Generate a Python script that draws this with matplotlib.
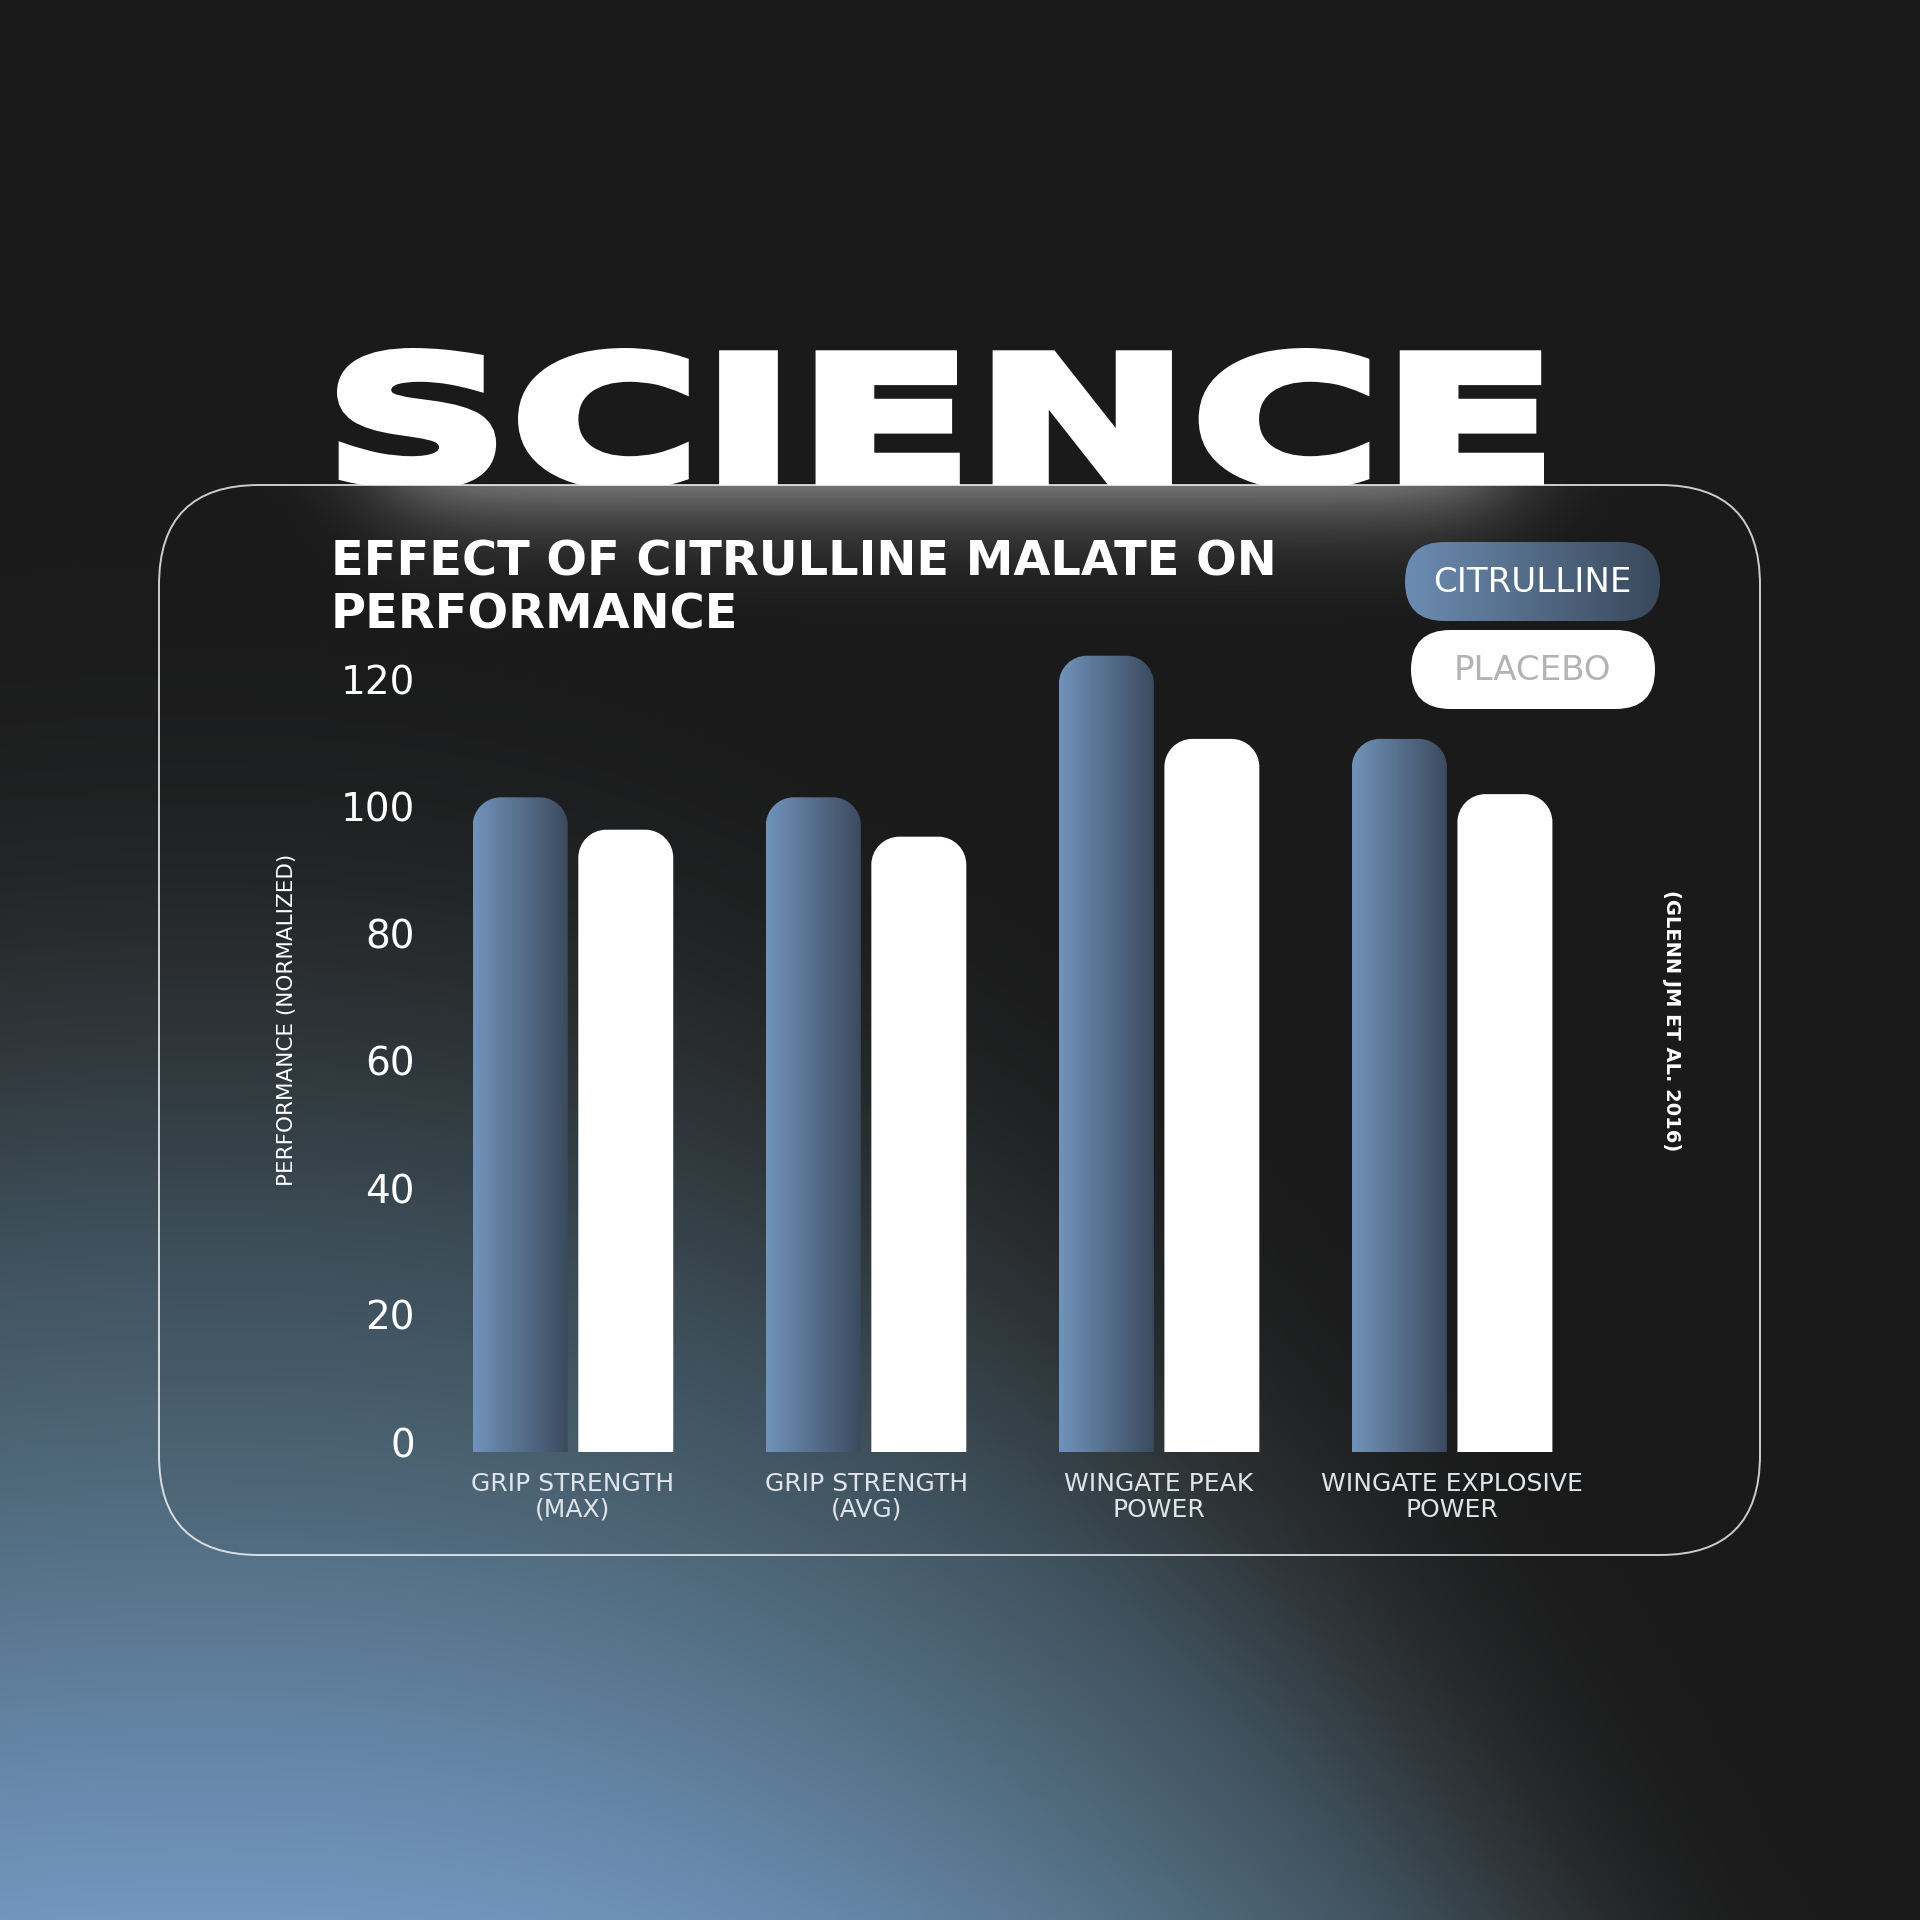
import numpy as np
import matplotlib
matplotlib.use("Agg")
import matplotlib.pyplot as plt
from matplotlib.patches import FancyBboxPatch, PathPatch
from matplotlib.path import Path
from matplotlib.transforms import Bbox, TransformedBbox, Affine2D, ScaledTranslation
from matplotlib.patheffects import AbstractPathEffect
from matplotlib.colors import LinearSegmentedColormap

# ---------------- data ----------------
categories = ["GRIP STRENGTH\n(MAX)", "GRIP STRENGTH\n(AVG)",
              "WINGATE PEAK\nPOWER", "WINGATE EXPLOSIVE\nPOWER"]
citrulline = [103.1, 103.1, 125.4, 112.3]
placebo = [98.0, 96.9, 112.3, 103.6]
yticks = [0, 20, 40, 60, 80, 100, 120]
series_names = ["CITRULLINE", "PLACEBO"]
title = "EFFECT OF CITRULLINE MALATE ON\nPERFORMANCE"
headline = "SCIENCE"
ylabel = "PERFORMANCE (NORMALIZED)"
source = "(GLENN JM ET AL. 2016)"

W = 1920
fig = plt.figure(figsize=(19.2, 19.2), dpi=100)


def fx(x):
    return x / W


def fy(y):
    return 1 - y / W


# ---------------- background ----------------
bg = fig.add_axes([0, 0, 1, 1], zorder=-10)
bg.axis("off")
n = 480
xs = np.linspace(0, W, n)
ys = np.linspace(0, W, n)
X, Y = np.meshgrid(xs, ys)
dy = np.clip(2000 - Y, 0, None)
dxx = np.abs(X - 200)
u = 1 - dy / 1150 - (dxx / 1500) ** 2.3
s = 0.10
t = np.clip(s * np.logaddexp(0, u / s), 0, 1)
bg_cmap = LinearSegmentedColormap.from_list(
    "bg", [(0, "#1a1a1a"), (0.12, "#2a2e30"), (0.33, "#3e4f5a"), (0.55, "#506a7c"),
           (0.8, "#6688aa"), (1.0, "#7a9ecc")])
img = bg_cmap(t)[..., :3]
bg.imshow(img, extent=[0, 1, 0, 1], origin="upper", aspect="auto", interpolation="bilinear")
bg.set_xlim(0, 1)
bg.set_ylim(0, 1)


# ---------------- headline (stretched wide, clipped by the card) ----------------
class FitStretch(AbstractPathEffect):
    def __init__(self, x0, x1, y0, y1, lw=0):
        super().__init__()
        self.x0, self.x1, self.y0, self.y1, self.lw = x0, x1, y0, y1, lw

    def draw_path(self, renderer, gc, tpath, affine, rgbFace=None):
        ext = tpath.transformed(affine).get_extents()
        sx = (self.x1 - self.x0) / ext.width
        sy = (self.y1 - self.y0) / ext.height
        aff = affine + Affine2D().translate(-ext.x0, -ext.y0).scale(sx, sy).translate(self.x0, self.y0)
        gc0 = renderer.new_gc()
        gc0.copy_properties(gc)
        gc0.set_linewidth(self.lw)
        gc0.set_foreground(rgbFace)
        gc0.set_joinstyle("miter")
        renderer.draw_path(gc0, tpath, aff, rgbFace)
        gc0.restore()


card_top, card_bot, card_l, card_r = 485, 1555, 159, 1760
stroke_px = 10
sh = stroke_px / 2
sci = fig.text(0.5, fy(420), headline, fontsize=130, fontweight="bold", color="white",
               ha="center", va="center", zorder=1,
               path_effects=[FitStretch(337 + sh, 1544 - sh, W - 490 + sh, W - 348 - sh,
                                        lw=stroke_px * 72 / 100)])
sci.set_clip_box(TransformedBbox(Bbox([[0, fy(card_top)], [1, 1]]), fig.transFigure))

# ---------------- card overlay ----------------
ov = fig.add_axes([0, 0, 1, 1], zorder=2)
ov.axis("off")
card = FancyBboxPatch((fx(card_l), fy(card_bot)), fx(card_r) - fx(card_l), (card_bot - card_top) / W,
                      boxstyle=f"round,pad=0,rounding_size={100 / W}",
                      fc=(0.1, 0.1, 0.1, 0.05), ec=(1, 1, 1, 0.78), lw=1.4)
ov.add_patch(card)

# glow under the headline
gx = np.linspace(250, 1650, 500)
gy = np.linspace(card_top, card_top + 200, 140)
GX, GY = np.meshgrid(gx, gy)
hwin = 1 / (1 + np.exp(-(GX - 390) / 35)) * 1 / (1 + np.exp((GX - 1500) / 35))
alpha = 0.40 * np.exp(-((GY - card_top) / 48) ** 1.2) * hwin
glow = np.zeros(GX.shape + (4,))
glow[..., :3] = 1.0
glow[..., 3] = alpha
gim = ov.imshow(glow, extent=[fx(250), fx(1650), fy(card_top + 200), fy(card_top)],
                origin="upper", aspect="auto", interpolation="bilinear")
gim.set_clip_path(card)

# legend pills
cit_cmap = LinearSegmentedColormap.from_list("cit", ["#7193bb", "#3b4b5e"])
pill1 = FancyBboxPatch((fx(1405), fy(621)), fx(1660) - fx(1405), 79 / W,
                       boxstyle=f"round,pad=0,rounding_size={39.5 / W}", fc="none", ec="none")
ov.add_patch(pill1)
pim = ov.imshow(np.linspace(0, 1, 256)[None, :], cmap=cit_cmap,
                extent=[fx(1405), fx(1660), fy(621), fy(542)], aspect="auto")
pim.set_clip_path(pill1)
pill2 = FancyBboxPatch((fx(1411), fy(709)), fx(1655) - fx(1411), 79 / W,
                       boxstyle=f"round,pad=0,rounding_size={39.5 / W}", fc="white", ec="none")
ov.add_patch(pill2)
ov.set_xlim(0, 1)
ov.set_ylim(0, 1)

fig.text(fx(1532), fy(583), series_names[0], fontsize=24.5, color="white", ha="center", va="center", zorder=6)
fig.text(fx(1532), fy(671), series_names[1], fontsize=24.5, color="#b3b3b3", ha="center", va="center", zorder=6)

# title and side labels
fig.text(fx(331), fy(538), title, fontsize=34.5, fontweight="bold", color="white",
         ha="left", va="top", linespacing=1.17, zorder=6)
fig.text(fx(287), fy(1020), ylabel, rotation=90, fontsize=15.5, color="white",
         ha="center", va="center", zorder=6)
fig.text(fx(1672), fy(1021), source, rotation=-90, fontsize=14, fontweight="bold", color="white",
         ha="center", va="center", zorder=6)

# ---------------- chart ----------------
ax_l, ax_r, ax_b, ax_t = 426.5, 1628, 1452, 626.5
ax = fig.add_axes([fx(ax_l), fy(ax_b), (ax_r - ax_l) / W, (ax_b - ax_t) / W], zorder=3)
ax.patch.set_alpha(0)
for sp in ax.spines.values():
    sp.set_visible(False)
xlim = (-0.5, 3.6)
ylim = (0, 130)
pxx = (ax_r - ax_l) / (xlim[1] - xlim[0])
pxy = (ax_b - ax_t) / (ylim[1] - ylim[0])
rad = 28
rx, ry = rad / pxx, rad / pxy

x = np.arange(len(categories))
bw, off = 0.324, 0.18
bars_c = ax.bar(x - off, citrulline, bw, color="none", linewidth=0)
bars_p = ax.bar(x + off, placebo, bw, color="none", linewidth=0)


def rounded_top(x0, w, h):
    x1 = x0 + w
    k = 0.5523
    verts = [(x0, 0), (x0, h - ry),
             (x0, h - ry + k * ry), (x0 + rx - k * rx, h), (x0 + rx, h),
             (x1 - rx, h),
             (x1 - rx + k * rx, h), (x1, h - ry + k * ry), (x1, h - ry),
             (x1, 0), (x0, 0)]
    codes = [Path.MOVETO, Path.LINETO,
             Path.CURVE4, Path.CURVE4, Path.CURVE4,
             Path.LINETO,
             Path.CURVE4, Path.CURVE4, Path.CURVE4,
             Path.LINETO, Path.CLOSEPOLY]
    return Path(verts, codes)


grad = np.linspace(0, 1, 256)[None, :]
for b in bars_c:
    p = PathPatch(rounded_top(b.get_x(), b.get_width(), b.get_height()), fc="none", ec="none")
    ax.add_patch(p)
    im = ax.imshow(grad, cmap=cit_cmap, aspect="auto",
                   extent=[b.get_x(), b.get_x() + b.get_width(), 0, b.get_height()])
    im.set_clip_path(p)
for b in bars_p:
    p = PathPatch(rounded_top(b.get_x(), b.get_width(), b.get_height()), fc="white", ec="none")
    ax.add_patch(p)

ax.set_xlim(*xlim)
ax.set_ylim(*ylim)
ax.set_yticks(yticks)
ax.set_yticklabels([str(v) for v in yticks])
ax.tick_params(axis="y", length=0, pad=8.3, labelsize=28, labelcolor="white")
ax.set_xticks(x)
ax.set_xticklabels(categories, fontsize=18, color="#dfe4ea", linespacing=1.08)
ax.tick_params(axis="x", length=0, pad=14.5)
shift = ScaledTranslation(0, 0.10, fig.dpi_scale_trans)
for lab in ax.get_yticklabels():
    lab.set_transform(lab.get_transform() + shift)

fig.savefig("out.png", dpi=100)
